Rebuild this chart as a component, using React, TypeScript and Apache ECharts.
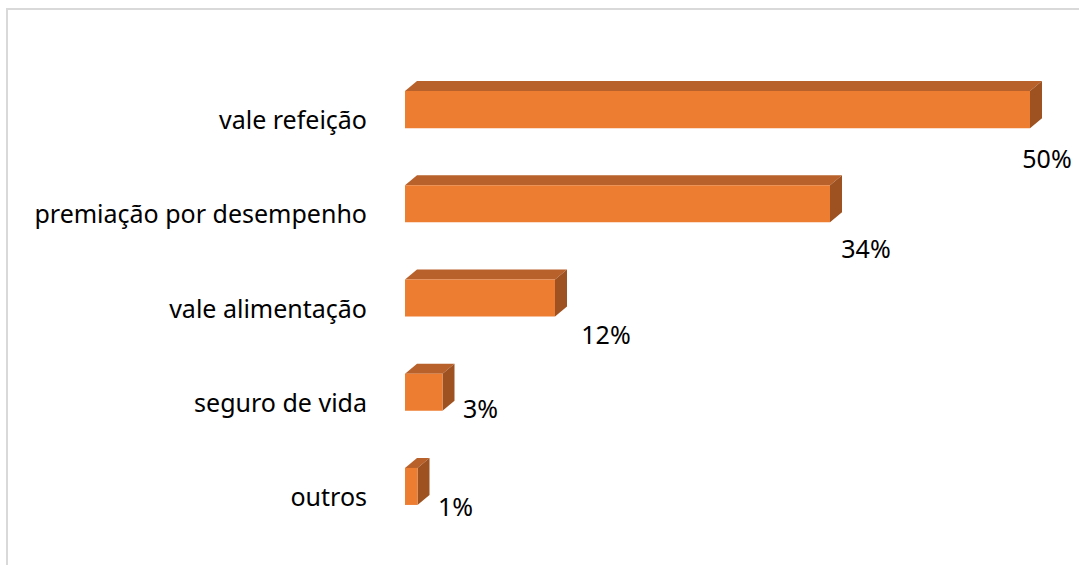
import React, { useEffect, useRef } from "react";
import * as echarts from "echarts";

const categories = [
  "vale refeição",
  "premiação por desempenho",
  "vale alimentação",
  "seguro de vida",
  "outros",
];
const values = [50, 34, 12, 3, 1];
const valueLabels = ["50%", "34%", "12%", "3%", "1%"];

// label placement tweaks (px, relative to bar's front bottom-right corner)
const labelOffsets: [number, number][] = [
  [17, 30],
  [36, 26],
  [51, 17],
  [38, -3],
  [38, 1],
];

const FRONT = "#ED7D31";
const TOP = "#B9612A";
const SIDE = "#9E5221";
const FONT = "Noto Sans";

export default function App() {
  const ref = useRef<HTMLDivElement>(null);
  useEffect(() => {
    if (!ref.current) return;
    const chart = echarts.init(ref.current, undefined, { renderer: "svg" });
    const data = values.map((v, i) => [v, i]);
    chart.setOption({
      animation: false,
      backgroundColor: "#ffffff",
      graphic: [
        {
          type: "rect",
          shape: { x: 7, y: 9, width: 1200, height: 700 },
          style: { fill: "none", stroke: "#d9d9d9", lineWidth: 2 },
          silent: true,
          z: -1,
        },
      ],
      grid: { left: 405, right: 49, top: 72, bottom: 22, containLabel: false },
      xAxis: { type: "value", min: 0, max: 50, show: false },
      yAxis: {
        type: "category",
        data: categories,
        inverse: true,
        axisLine: { show: false },
        axisTick: { show: false },
        splitLine: { show: false },
        axisLabel: {
          fontSize: 25,
          color: "#000000",
          fontFamily: FONT,
          margin: 38,
        },
      },
      series: [
        {
          type: "custom",
          data,
          encode: { x: 0, y: 1 },
          renderItem: (params: any, api: any) => {
            const v = api.value(0);
            const idx = api.value(1);
            const [x0, yc] = api.coord([0, idx]);
            const [x1] = api.coord([v, idx]);
            const band = api.size([0, 1])[1];
            const h = band * 0.393;
            const yTop = yc - band * 0.297;
            const yBot = yTop + h;
            const dx = 12;
            const dy = 10;
            const off = labelOffsets[params.dataIndex] || [30, 10];
            return {
              type: "group",
              children: [
                {
                  type: "polygon",
                  shape: {
                    points: [
                      [x0, yTop],
                      [x0 + dx, yTop - dy],
                      [x1 + dx, yTop - dy],
                      [x1, yTop],
                    ],
                  },
                  style: { fill: TOP },
                },
                {
                  type: "polygon",
                  shape: {
                    points: [
                      [x1, yTop],
                      [x1 + dx, yTop - dy],
                      [x1 + dx, yBot - dy],
                      [x1, yBot],
                    ],
                  },
                  style: { fill: SIDE },
                },
                {
                  type: "rect",
                  shape: { x: x0, y: yTop, width: x1 - x0, height: h },
                  style: { fill: FRONT },
                },
                {
                  type: "text",
                  x: x1 + off[0],
                  y: yBot + off[1],
                  style: {
                    text: valueLabels[params.dataIndex],
                    fontSize: 25,
                    fontFamily: FONT,
                    fill: "#000000",
                    align: "center",
                    verticalAlign: "middle",
                  },
                },
              ],
            };
          },
        },
      ],
    });
    return () => chart.dispose();
  }, []);
  return (
    <div
      ref={ref}
      style={{ position: "fixed", left: 0, top: 0, width: 1079, height: 565 }}
    />
  );
}
